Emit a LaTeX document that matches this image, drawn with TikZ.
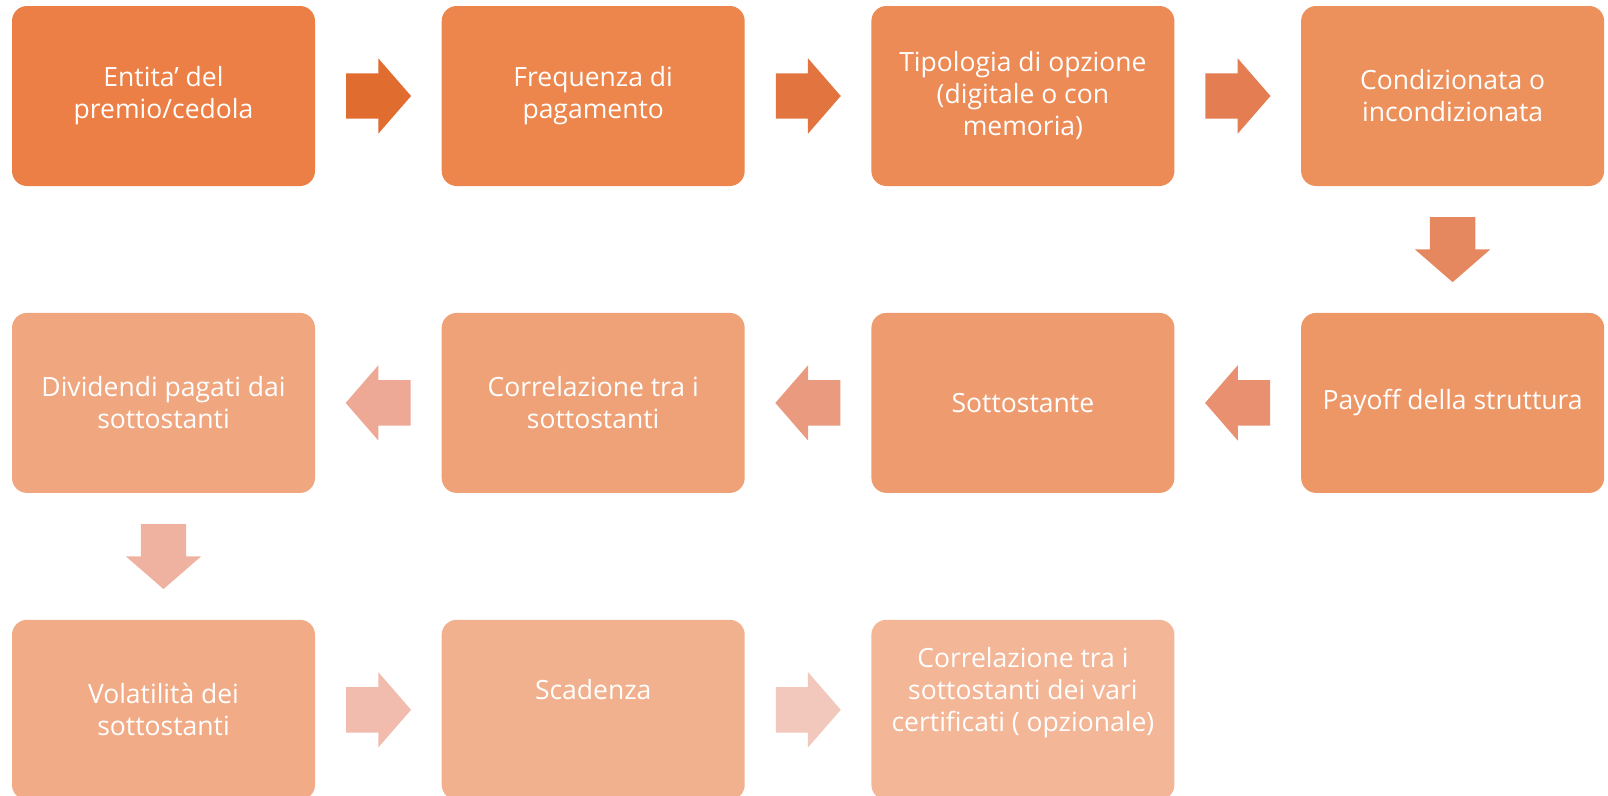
\documentclass[tikz,border=0pt]{standalone}
\usepackage{fontspec}
\setmainfont[Ligatures=NoCommon]{Open Sans}
\usetikzlibrary{positioning, calc, shapes.arrows}

\definecolor{boxA}{HTML}{EC7F45}
\definecolor{boxB}{HTML}{EC864D}
\definecolor{boxC}{HTML}{EC8B55}
\definecolor{boxD}{HTML}{EC915C}
\definecolor{boxE}{HTML}{ED9767}
\definecolor{boxF}{HTML}{EE9C6F}
\definecolor{boxG}{HTML}{EFA277}
\definecolor{boxH}{HTML}{F0A780}
\definecolor{boxI}{HTML}{F1AC87}
\definecolor{boxJ}{HTML}{F2B18E}
\definecolor{boxK}{HTML}{F3B697}
\definecolor{arrA}{HTML}{E06C30}
\definecolor{arrB}{HTML}{E27440}
\definecolor{arrC}{HTML}{E47D52}
\definecolor{arrD}{HTML}{E58860}
\definecolor{arrE}{HTML}{E8906F}
\definecolor{arrF}{HTML}{EA9A7E}
\definecolor{arrG}{HTML}{EDA996}
\definecolor{arrH}{HTML}{EFB2A1}
\definecolor{arrI}{HTML}{F1BCAE}
\definecolor{arrJ}{HTML}{F3C8BC}

\newcommand{\liftup}[1]{\raisebox{17pt}[\height][\depth]{\begin{tabular}{@{}c@{}}#1\end{tabular}}}

\begin{document}
\begin{tikzpicture}[x=1pt, y=-1pt, node distance=126.5pt and 126.3pt,
  stepbox/.style={rounded corners=15pt, minimum width=303pt, minimum height=180pt, align=center, text=white, font=\fontsize{26.5}{32}\selectfont, inner sep=0pt},
  blockarr/.style={single arrow, single arrow head extend=15pt, single arrow tip angle=98, minimum height=65pt, inner xsep=0pt, inner ysep=22.5pt, draw=none, anchor=tail}]
\useasboundingbox (0,0) rectangle (1608,795);
% first row
\node[stepbox, fill=boxA] (entita) at (163.5,96) {Entita’ del\\premio/cedola};
\node[stepbox, fill=boxB, right=of entita] (freq) {Frequenza di\\pagamento};
\node[stepbox, fill=boxC, right=of freq] (tipo) {Tipologia di opzione\\(digitale o con\\memoria)};
\node[stepbox, fill=boxD, right=of tipo] (cond) {Condizionata o\\incondizionata};
% second row
\node[stepbox, fill=boxE, below=of cond] (payoff) {Payoff della struttura};
\node[stepbox, fill=boxF, left=of payoff] (sott) {Sottostante};
\node[stepbox, fill=boxG, left=of sott] (corr) {Correlazione tra i\\sottostanti};
\node[stepbox, fill=boxH, left=of corr] (divid) {Dividendi pagati dai\\sottostanti};
% third row
\node[stepbox, fill=boxI, below=of divid] (vola) {Volatilità dei\\sottostanti};
\node[stepbox, fill=boxJ, right=of vola] (scad) {\liftup{Scadenza}};
\node[stepbox, fill=boxK, right=of scad] (certif) {\liftup{Correlazione tra i\\sottostanti dei vari\\certificati ( opzionale)}};
% arrows (tail placed half an arrow before the gap's middle)
\node[blockarr, fill=arrA] at ($($(entita.east)!0.5!(freq.west)$)!32.5pt!(entita.east)$) {};
\node[blockarr, fill=arrB] at ($($(freq.east)!0.5!(tipo.west)$)!32.5pt!(freq.east)$) {};
\node[blockarr, fill=arrC] at ($($(tipo.east)!0.5!(cond.west)$)!32.5pt!(tipo.east)$) {};
\node[blockarr, fill=arrD, rotate=-90] at ($($(cond.south)!0.5!(payoff.north)$)!32.5pt!(cond.south)$) {};
\node[blockarr, fill=arrE, rotate=180] at ($($(payoff.west)!0.5!(sott.east)$)!32.5pt!(payoff.west)$) {};
\node[blockarr, fill=arrF, rotate=180] at ($($(sott.west)!0.5!(corr.east)$)!32.5pt!(sott.west)$) {};
\node[blockarr, fill=arrG, rotate=180] at ($($(corr.west)!0.5!(divid.east)$)!32.5pt!(corr.west)$) {};
\node[blockarr, fill=arrH, rotate=-90] at ($($(divid.south)!0.5!(vola.north)$)!32.5pt!(divid.south)$) {};
\node[blockarr, fill=arrI] at ($($(vola.east)!0.5!(scad.west)$)!32.5pt!(vola.east)$) {};
\node[blockarr, fill=arrJ] at ($($(scad.east)!0.5!(certif.west)$)!32.5pt!(scad.east)$) {};
\end{tikzpicture}
\end{document}
